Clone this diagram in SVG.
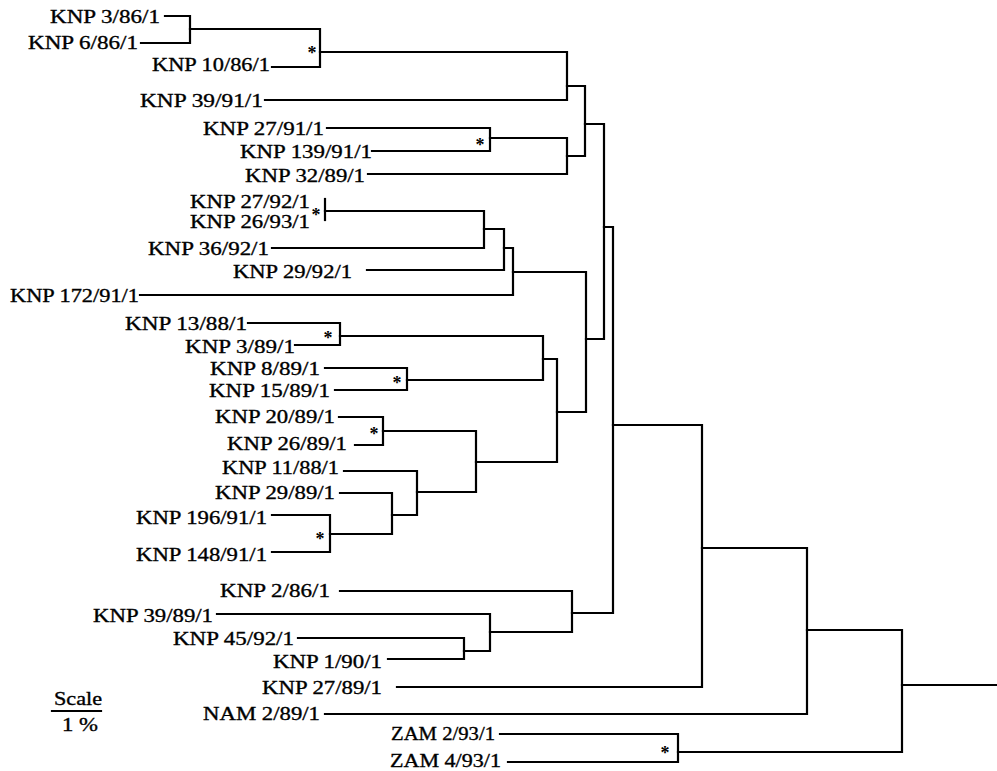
<svg xmlns="http://www.w3.org/2000/svg" width="997" height="771" viewBox="0 0 997 771">
<style>
.lb{font-family:"Liberation Serif","Times New Roman",serif;font-size:19px;fill:#000;stroke:#000;stroke-width:0.35}
.ast{font-family:"Liberation Serif","Times New Roman",serif;font-size:18px;font-weight:bold;fill:#000;text-anchor:middle}
.ln{fill:none;stroke:#000;stroke-width:2.2;stroke-linejoin:miter;stroke-linecap:square}
</style>
<rect width="997" height="771" fill="#fff"/>
<g id="connectors" class="ln">
<path d="M165,16 H190 V43 H141"/>
<path d="M190,29 H320 V67 H272"/>
<path d="M320,52 H567 V100 H265"/>
<path d="M567,86 H585 V156 H567"/>
<path d="M327,128 H490 V151 H372"/>
<path d="M490,138 H567 V174 H368"/>
<path d="M585,124 H604 V339 H586"/>
<path d="M325,199 V220"/>
<path d="M325,211 H484 V248 H272"/>
<path d="M484,229 H504 V270 H367"/>
<path d="M504,248 H513 V295 H140"/>
<path d="M513,272 H586 V412 H557"/>
<path d="M248,323 H340 V345 H295"/>
<path d="M340,336 H543 V380 H407"/>
<path d="M325,368 H407 V390 H335"/>
<path d="M543,359 H557 V462 H476"/>
<path d="M339,417 H383 V445 H355"/>
<path d="M383,431 H476 V492 H417"/>
<path d="M344,471 H417 V515 H392"/>
<path d="M340,493 H392 V534 H330"/>
<path d="M272,515 H330 V552 H272"/>
<path d="M604,227 H613 V613 H572"/>
<path d="M340,591 H572 V632 H490"/>
<path d="M217,614 H490 V651 H464"/>
<path d="M298,638 H464 V659 H388"/>
<path d="M613,425 H702 V687 H397"/>
<path d="M702,548 H807 V714 H325"/>
<path d="M807,630 H902 V752 H678"/>
<path d="M500,734 H678 V762 H508"/>
<path d="M902,685 H996"/>
<path d="M52,711 H101"/>
</g>
<g id="support-marks">
<text class="ast" x="312" y="59">*</text>
<text class="ast" x="480" y="151">*</text>
<text class="ast" x="316" y="221">*</text>
<text class="ast" x="328" y="344">*</text>
<text class="ast" x="397" y="389">*</text>
<text class="ast" x="374" y="440">*</text>
<text class="ast" x="320" y="545">*</text>
<text class="ast" x="665" y="759">*</text>
</g>
<g id="n-knp-3-86"><text class="lb" x="50" y="23" textLength="110" lengthAdjust="spacingAndGlyphs">KNP 3/86/1</text></g>
<g id="n-knp-6-86"><text class="lb" x="28" y="49" textLength="110" lengthAdjust="spacingAndGlyphs">KNP 6/86/1</text></g>
<g id="n-knp-10-86"><text class="lb" x="152" y="71" textLength="118" lengthAdjust="spacingAndGlyphs">KNP 10/86/1</text></g>
<g id="n-knp-39-91"><text class="lb" x="140" y="107" textLength="123" lengthAdjust="spacingAndGlyphs">KNP 39/91/1</text></g>
<g id="n-knp-27-91"><text class="lb" x="203" y="135" textLength="121" lengthAdjust="spacingAndGlyphs">KNP 27/91/1</text></g>
<g id="n-knp-139-91"><text class="lb" x="240" y="158" textLength="132" lengthAdjust="spacingAndGlyphs">KNP 139/91/1</text></g>
<g id="n-knp-32-89"><text class="lb" x="245" y="182" textLength="120" lengthAdjust="spacingAndGlyphs">KNP 32/89/1</text></g>
<g id="n-knp-27-92"><text class="lb" x="190" y="208" textLength="120" lengthAdjust="spacingAndGlyphs">KNP 27/92/1</text></g>
<g id="n-knp-26-93"><text class="lb" x="190" y="228" textLength="120" lengthAdjust="spacingAndGlyphs">KNP 26/93/1</text></g>
<g id="n-knp-36-92"><text class="lb" x="148" y="255" textLength="121" lengthAdjust="spacingAndGlyphs">KNP 36/92/1</text></g>
<g id="n-knp-29-92"><text class="lb" x="233" y="278" textLength="119" lengthAdjust="spacingAndGlyphs">KNP 29/92/1</text></g>
<g id="n-knp-172-91"><text class="lb" x="10" y="302" textLength="129" lengthAdjust="spacingAndGlyphs">KNP 172/91/1</text></g>
<g id="n-knp-13-88"><text class="lb" x="125" y="330" textLength="122" lengthAdjust="spacingAndGlyphs">KNP 13/88/1</text></g>
<g id="n-knp-3-89"><text class="lb" x="185" y="353" textLength="110" lengthAdjust="spacingAndGlyphs">KNP 3/89/1</text></g>
<g id="n-knp-8-89"><text class="lb" x="210" y="375" textLength="110" lengthAdjust="spacingAndGlyphs">KNP 8/89/1</text></g>
<g id="n-knp-15-89"><text class="lb" x="209" y="397" textLength="121" lengthAdjust="spacingAndGlyphs">KNP 15/89/1</text></g>
<g id="n-knp-20-89"><text class="lb" x="215" y="423" textLength="120" lengthAdjust="spacingAndGlyphs">KNP 20/89/1</text></g>
<g id="n-knp-26-89"><text class="lb" x="227" y="450" textLength="120" lengthAdjust="spacingAndGlyphs">KNP 26/89/1</text></g>
<g id="n-knp-11-88"><text class="lb" x="222" y="474" textLength="117" lengthAdjust="spacingAndGlyphs">KNP 11/88/1</text></g>
<g id="n-knp-29-89"><text class="lb" x="215" y="499" textLength="120" lengthAdjust="spacingAndGlyphs">KNP 29/89/1</text></g>
<g id="n-knp-196-91"><text class="lb" x="136" y="524" textLength="131" lengthAdjust="spacingAndGlyphs">KNP 196/91/1</text></g>
<g id="n-knp-148-91"><text class="lb" x="136" y="561" textLength="131" lengthAdjust="spacingAndGlyphs">KNP 148/91/1</text></g>
<g id="n-knp-2-86"><text class="lb" x="220" y="597" textLength="110" lengthAdjust="spacingAndGlyphs">KNP 2/86/1</text></g>
<g id="n-knp-39-89"><text class="lb" x="93" y="622" textLength="120" lengthAdjust="spacingAndGlyphs">KNP 39/89/1</text></g>
<g id="n-knp-45-92"><text class="lb" x="173" y="645" textLength="121" lengthAdjust="spacingAndGlyphs">KNP 45/92/1</text></g>
<g id="n-knp-1-90"><text class="lb" x="273" y="668" textLength="109" lengthAdjust="spacingAndGlyphs">KNP 1/90/1</text></g>
<g id="n-knp-27-89"><text class="lb" x="262" y="694" textLength="120" lengthAdjust="spacingAndGlyphs">KNP 27/89/1</text></g>
<g id="n-nam-2-89"><text class="lb" x="203" y="720" textLength="117" lengthAdjust="spacingAndGlyphs">NAM 2/89/1</text></g>
<g id="n-zam-2-93"><text class="lb" x="391" y="740" textLength="104" lengthAdjust="spacingAndGlyphs">ZAM 2/93/1</text></g>
<g id="n-zam-4-93"><text class="lb" x="390" y="767" textLength="111" lengthAdjust="spacingAndGlyphs">ZAM 4/93/1</text></g>
<g id="scale">
<text class="lb" x="54" y="705" textLength="48" lengthAdjust="spacingAndGlyphs">Scale</text>
<text class="lb" x="62" y="731" textLength="36" lengthAdjust="spacingAndGlyphs">1 %</text>
</g>
</svg>
